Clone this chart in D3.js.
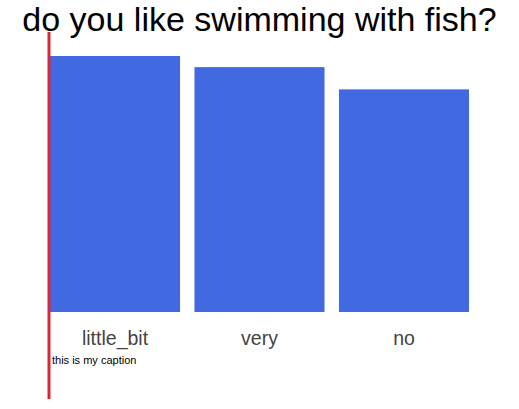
<!DOCTYPE html>
<html><head><meta charset="utf-8">
<script src="https://cdn.jsdelivr.net/npm/d3@7"></script>
<style>
body{margin:0;background:#fff;}
svg{display:block;font-family:"Liberation Sans",Arial,sans-serif;}
.xaxis .domain,.xaxis line{display:none;}
</style></head>
<body><svg id="c" width="519" height="409"></svg>
<script>
const categories = ["little_bit", "very", "no"];
const values = [23, 22, 20];
const titleText = "do you like swimming with fish?";
const captionText = "this is my caption";

const svg = d3.select("#c");
const x = d3.scaleBand().domain(categories).range([50, 469]).paddingInner(0.1).paddingOuter(0);
const y = d3.scaleLinear().domain([0, d3.max(values)]).range([312, 56]);

svg.append("text").attr("x", 259.5).attr("y", 31).attr("text-anchor", "middle")
  .attr("font-size", 34).attr("fill", "#000").text(titleText);

svg.selectAll("rect.bar").data(values).join("rect").attr("class", "bar")
  .attr("x", (d, i) => x(categories[i])).attr("width", x.bandwidth())
  .attr("y", d => y(d)).attr("height", d => y(0) - y(d)).attr("fill", "#4169e1");

const ax = svg.append("g").attr("class", "xaxis").attr("transform", "translate(0,312)")
  .call(d3.axisBottom(x).tickSize(0).tickPadding(18));
ax.selectAll("text").attr("font-size", 19.5).attr("dy", null).attr("y", 33).attr("fill", "#444")
  .attr("font-family", "Liberation Sans, Arial, sans-serif");

svg.append("text").attr("x", 52).attr("y", 364).attr("font-size", 11).attr("fill", "#000").text(captionText);

svg.append("line").attr("x1", 49).attr("x2", 49).attr("y1", 32).attr("y2", 399)
  .attr("stroke", "#d62839").attr("stroke-width", 3);
</script></body></html>
